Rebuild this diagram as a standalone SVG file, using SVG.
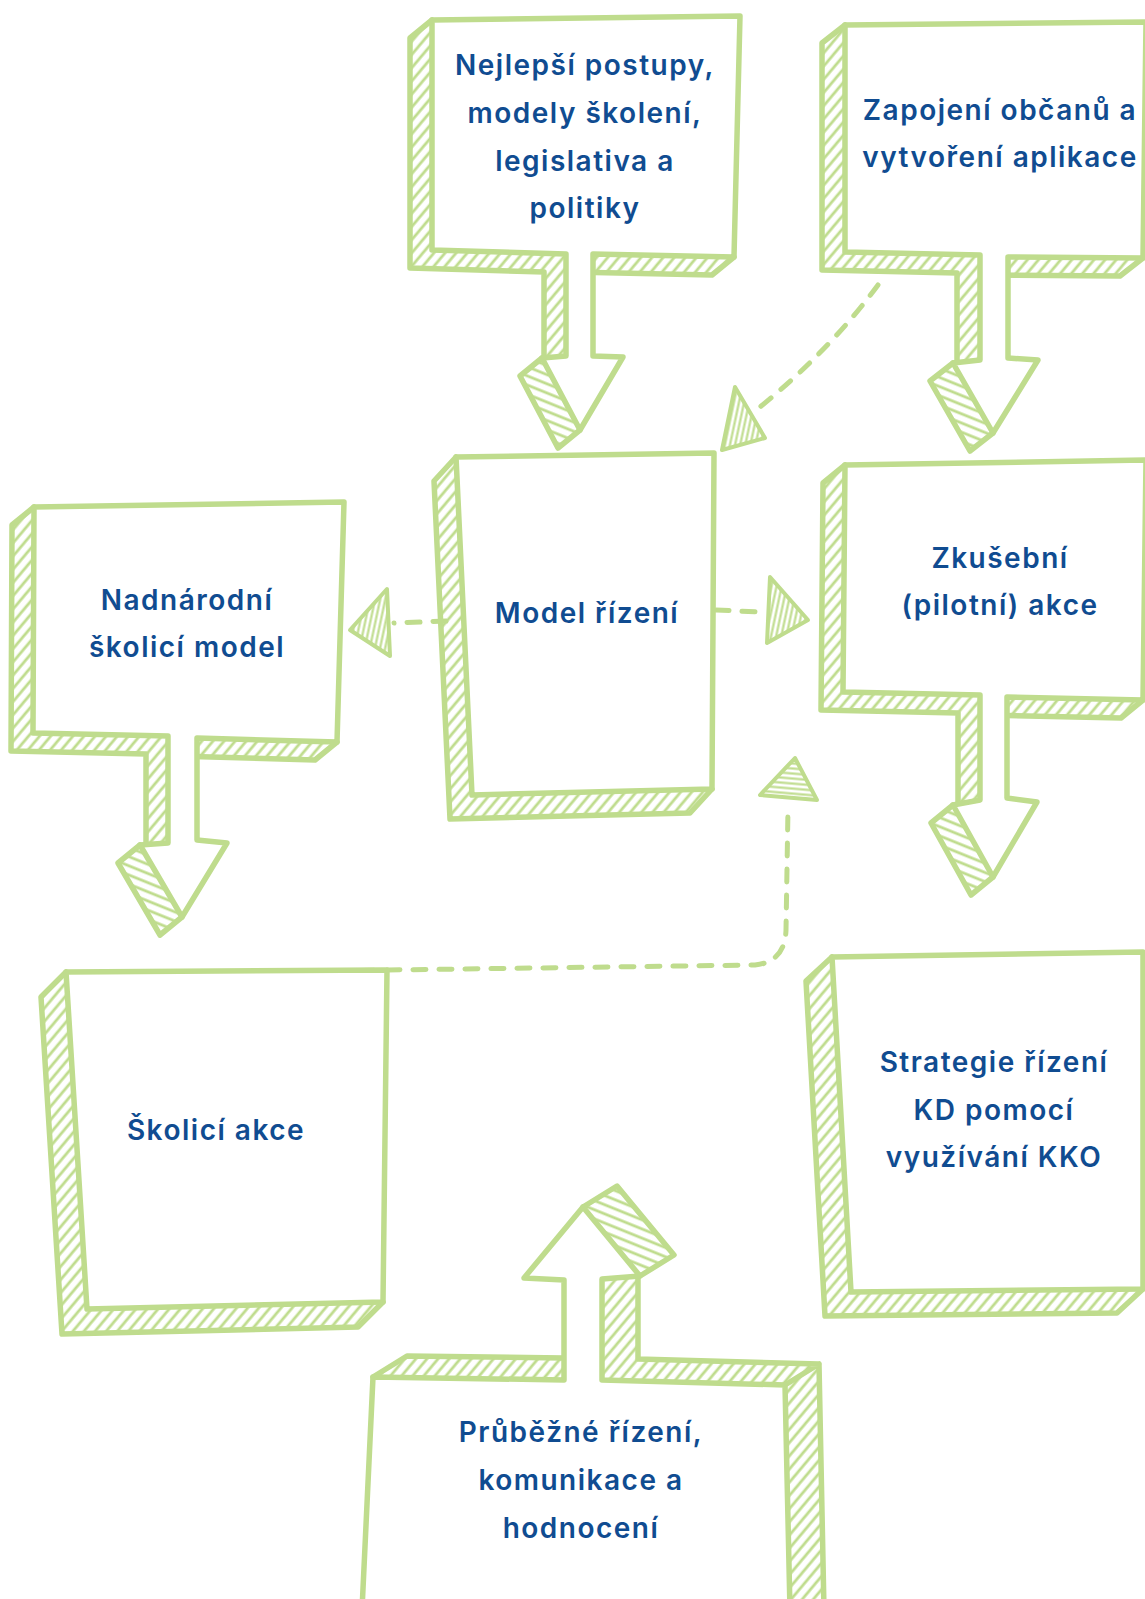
<svg xmlns="http://www.w3.org/2000/svg" width="1145" height="1599" viewBox="0 0 1145 1599">
<defs>
<pattern id="hatch" width="8.5" height="8.5" patternUnits="userSpaceOnUse" patternTransform="rotate(40)">
<line x1="2" y1="0" x2="2" y2="8.5" stroke="#bfdc8d" stroke-width="2.8"/>
</pattern>
<pattern id="hatchA" width="8.5" height="8.5" patternUnits="userSpaceOnUse" patternTransform="rotate(-68)">
<line x1="2" y1="0" x2="2" y2="8.5" stroke="#bfdc8d" stroke-width="2.8"/>
</pattern>
<pattern id="scribV" width="5" height="5" patternUnits="userSpaceOnUse" patternTransform="rotate(12)">
<line x1="1.5" y1="0" x2="1.5" y2="5" stroke="#bfdc8d" stroke-width="2.2"/>
</pattern>
<pattern id="scribH" width="5" height="5" patternUnits="userSpaceOnUse" patternTransform="rotate(95)">
<line x1="1.5" y1="0" x2="1.5" y2="5" stroke="#bfdc8d" stroke-width="2.2"/>
</pattern>
<style>
.hf{fill:url(#hatch);stroke:none}
.ha{fill:url(#hatchA);stroke:none}
.ol{fill:none;stroke:#bfdc8d;stroke-width:5.5;stroke-linejoin:round;stroke-linecap:round}
.fr{fill:#fff;stroke:#bfdc8d;stroke-width:5.5;stroke-linejoin:round}
.lb{font-family:Inter,"DejaVu Sans",sans-serif;font-weight:600;font-size:28px;fill:#104c91;text-anchor:middle;letter-spacing:1.5px}
.dash{fill:none;stroke:#bfdc8d;stroke-width:5;stroke-linecap:round;stroke-dasharray:13 13}
.ahV{fill:url(#scribV);stroke:#bfdc8d;stroke-width:4;stroke-linejoin:round}
.ahH{fill:url(#scribH);stroke:#bfdc8d;stroke-width:4;stroke-linejoin:round}
</style>
</defs>
<rect width="1145" height="1599" fill="#fff"/>

<g id="connectors">
<path class="dash" d="M446,621 L394,623"/>
<polygon class="ahV" points="350,630 387,589 390,656"/>
<path class="dash" d="M716,610 L760,612"/>
<polygon class="ahV" points="770,577 808,620 767,643"/>
<path class="dash" d="M878,285 Q830,350 760,407"/>
<polygon class="ahV" points="735,387 722,450 765,438"/>
<path class="dash" d="M205,974 L388,970 L755,965 Q785,962 786,930 L788,808"/>
<polygon class="ahH" points="795,758 760,795 817,800"/>
</g>

<g id="node-a">
<path class="hf" d="M432,20 L410,38 L410,268 L432,250 Z M432,250 L410,268 L544,272 L566,254 Z M566,254 L544,272 L544,358 L566,358 Z M593,254 L571,272 L712,275 L734,257 Z"/>
<path class="ha" d="M542,358 L520,376 L558,448 L580,430 Z"/>
<path class="ol" d="M432,20 L410,38 L410,268 L544,272 L544,358 M542,358 L520,376 L558,448 L580,430 M734,257 L712,275 L571,272"/>
<path class="fr" d="M432,20 L740,16 L734,257 L593,254 L593,356 L623,357 L580,430 L542,358 L566,356 L566,254 L432,250 Z"/>
<text class="lb"><tspan x="585" y="75">Nejlepší postupy,</tspan><tspan x="585" y="123">modely školení,</tspan><tspan x="585" y="171">legislativa a</tspan><tspan x="585" y="218">politiky</tspan></text>
</g>

<g id="node-b">
<path class="hf" d="M845,25 L822,43 L822,270 L845,252 Z M845,252 L822,270 L957,273 L980,255 Z M980,255 L957,273 L957,363 L980,363 Z M1008,257 L985,275 L1120,276 L1143,258 Z"/>
<path class="ha" d="M953,363 L930,381 L970,451 L993,433 Z"/>
<path class="ol" d="M845,25 L822,43 L822,270 L957,273 L957,363 M953,363 L930,381 L970,451 L993,433 M1143,258 L1120,276 L985,275"/>
<path class="fr" d="M845,25 L1146,22 L1143,258 L1008,257 L1008,358 L1038,360 L993,433 L953,363 L980,360 L980,255 L845,252 Z"/>
<text class="lb"><tspan x="1000" y="120">Zapojení občanů a</tspan><tspan x="1000" y="167">vytvoření aplikace</tspan></text>
</g>

<g id="node-c">
<path class="hf" d="M456,457 L434,481 L450,819 L472,795 Z M472,795 L450,819 L690,813 L712,789 Z"/>
<path class="ol" d="M456,457 L434,481 L450,819 L690,813 L712,789"/>
<path class="fr" d="M456,457 L714,453 L712,789 L472,795 Z"/>
<text class="lb" x="587" y="623">Model řízení</text>
</g>

<g id="node-d">
<path class="hf" d="M34,507 L12,525 L11,751 L33,733 Z M33,733 L11,751 L146,754 L168,736 Z M168,736 L146,754 L146,845 L168,845 Z M197,738 L175,756 L315,760 L337,742 Z"/>
<path class="ha" d="M140,845 L118,863 L160,935 L182,917 Z"/>
<path class="ol" d="M34,507 L12,525 L11,751 L146,754 L146,845 M140,845 L118,863 L160,935 L182,917 M337,742 L315,760 L175,756"/>
<path class="fr" d="M34,507 L344,502 L337,742 L197,738 L197,840 L227,843 L182,917 L140,845 L168,843 L168,736 L33,733 Z"/>
<text class="lb"><tspan x="187" y="610">Nadnárodní</tspan><tspan x="187" y="657">školicí model</tspan></text>
</g>

<g id="node-e">
<path class="hf" d="M845,465 L823,483 L821,710 L843,692 Z M843,692 L821,710 L958,713 L980,695 Z M980,695 L958,713 L958,805 L980,805 Z M1007,697 L985,715 L1121,718 L1143,700 Z"/>
<path class="ha" d="M953,805 L931,823 L971,895 L993,877 Z"/>
<path class="ol" d="M845,465 L823,483 L821,710 L958,713 L958,805 M953,805 L931,823 L971,895 L993,877 M1143,700 L1121,718 L985,715"/>
<path class="fr" d="M845,465 L1146,460 L1143,700 L1007,697 L1007,798 L1037,802 L993,877 L953,805 L980,800 L980,695 L843,692 Z"/>
<text class="lb"><tspan x="1000" y="568">Zkušební</tspan><tspan x="1000" y="615">(pilotní) akce</tspan></text>
</g>

<g id="node-f">
<path class="hf" d="M66,972 L41,997 L62,1334 L87,1309 Z M87,1309 L62,1334 L358,1327 L383,1302 Z"/>
<path class="ol" d="M66,972 L41,997 L62,1334 L358,1327 L383,1302"/>
<path class="fr" d="M66,972 L387,970 L383,1302 L87,1309 Z"/>
<text class="lb" x="216" y="1140">Školicí akce</text>
</g>

<g id="node-g">
<path class="hf" d="M832,957 L806,981 L825,1316 L851,1292 Z M851,1292 L825,1316 L1117,1313 L1143,1289 Z"/>
<path class="ol" d="M832,957 L806,981 L825,1316 L1117,1313 L1143,1289"/>
<path class="fr" d="M832,957 L1143,952 L1143,1289 L851,1292 Z"/>
<text class="lb"><tspan x="994" y="1072">Strategie řízení</tspan><tspan x="994" y="1120">KD pomocí</tspan><tspan x="994" y="1167">využívání KKO</tspan></text>
</g>

<g id="node-h">
<path class="hf" d="M373,1377 L407,1356 L598,1359 L564,1380 Z M602,1279 L638,1277 L638,1359 L602,1380 Z M602,1380 L636,1359 L819,1364 L785,1385 Z M785,1385 L819,1364 L824,1610 L790,1610 Z"/>
<path class="ha" d="M583,1207 L617,1186 L674,1255 L640,1276 Z"/>
<path class="ol" d="M373,1377 L407,1356 L564,1358 M583,1207 L617,1186 L674,1255 L640,1276 M638,1277 L638,1359 L819,1364 L824,1610 M785,1385 L819,1364"/>
<path class="fr" d="M362,1610 L373,1377 L564,1380 L564,1280 L524,1278 L583,1207 L640,1276 L602,1279 L602,1380 L785,1385 L790,1610 Z"/>
<text class="lb"><tspan x="581" y="1442">Průběžné řízení,</tspan><tspan x="581" y="1490">komunikace a</tspan><tspan x="581" y="1538">hodnocení</tspan></text>
</g>
</svg>
